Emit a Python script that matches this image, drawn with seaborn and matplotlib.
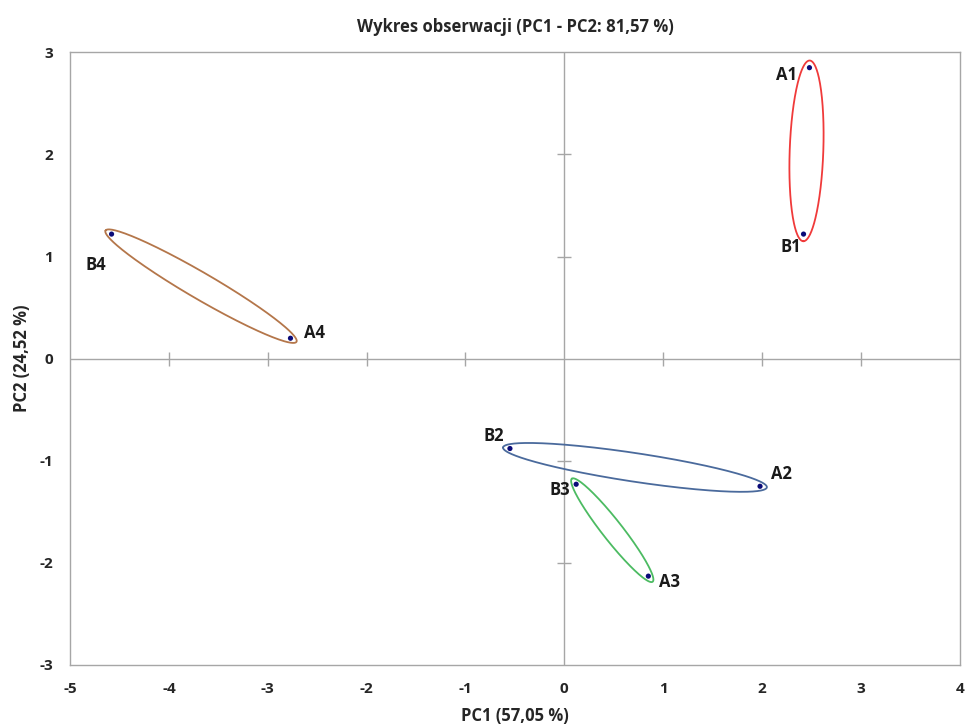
import numpy as np
import pandas as pd
import matplotlib
matplotlib.use("Agg")
import matplotlib.pyplot as plt
import seaborn as sns

# ---- data ----
labels = ["A1", "B1", "A2", "B2", "A3", "B3", "A4", "B4"]
pc1 = [2.48, 2.42, 1.98, -0.55, 0.85, 0.12, -2.77, -4.58]
pc2 = [2.85, 1.22, -1.25, -0.88, -2.13, -1.23, 0.20, 1.22]
groups = ["1", "1", "2", "2", "3", "3", "4", "4"]
x_ticks = [-5, -4, -3, -2, -1, 0, 1, 2, 3, 4]
y_ticks = [-3, -2, -1, 0, 1, 2, 3]

# style
ellipse_colors = {"1": "#f03a3a", "2": "#4a6a9c", "3": "#4cbb62", "4": "#b4764a"}
ellipse_minor = {"1": 0.17, "2": 0.14, "3": 0.10, "4": 0.13}
label_offsets = {"A1": (-9, -5, "right"), "B1": (-2, -9, "right"),
                 "A2": (8, 9, "left"), "B2": (-4, 9, "right"),
                 "A3": (8, -4, "left"), "B3": (-4, -4, "right"),
                 "A4": (10, 4, "left"), "B4": (-4, -22, "right")}

df = pd.DataFrame({"label": labels, "PC1": pc1, "PC2": pc2, "group": groups})

sns.set_style("white")
plt.rcParams["font.family"] = ["Open Sans", "DejaVu Sans"]

fig = plt.figure(figsize=(9.66, 7.25), dpi=100)
ax = fig.add_axes([0.0725, 0.0828, 0.921, 0.845])

ax.set_xlim(-5, 4)
ax.set_ylim(-3, 3)

# cross axes at zero
ax.axhline(0, color="#a6a6a6", lw=1.0, zorder=1)
ax.axvline(0, color="#a6a6a6", lw=1.0, zorder=1)
xt_inner = [t for t in x_ticks if t not in (-5, 0, 4)]
yt_inner = [t for t in y_ticks if t not in (-3, 0, 3)]
ax.plot(xt_inner, [0] * len(xt_inner), ls="none", marker="|", ms=10, mew=1.0,
        color="#a6a6a6", zorder=1)
ax.plot([0] * len(yt_inner), yt_inner, ls="none", marker="_", ms=10, mew=1.0,
        color="#a6a6a6", zorder=1)

# ellipses around pairs
t = np.linspace(0, 2 * np.pi, 300)
for g, sub in df.groupby("group"):
    p = sub[["PC1", "PC2"]].to_numpy()
    c = p.mean(axis=0)
    d = p[1] - p[0]
    L = np.hypot(*d)
    u = d / L
    n = np.array([-u[1], u[0]])
    a = L / 2 + 0.07
    b = ellipse_minor[g]
    pts = c[None, :] + np.outer(a * np.cos(t), u) + np.outer(b * np.sin(t), n)
    ax.plot(pts[:, 0], pts[:, 1], color=ellipse_colors[g], lw=1.3, zorder=2)

sns.scatterplot(data=df, x="PC1", y="PC2", ax=ax, color="#0a0a78", s=14,
                edgecolor="none", zorder=3, legend=False)

for _, r in df.iterrows():
    dx, dy, ha = label_offsets[r["label"]]
    ax.annotate(r["label"], (r["PC1"], r["PC2"]), xytext=(dx, dy),
                textcoords="offset points", ha=ha, va="center",
                fontsize=12, fontweight="bold", color="#1a1a1a")

for s in ax.spines.values():
    s.set_color("#a6a6a6")
    s.set_linewidth(1.0)

ax.set_xticks(x_ticks)
ax.set_yticks(y_ticks)
ax.set_xticklabels([str(v) for v in x_ticks], fontsize=11, fontweight="bold")
ax.set_yticklabels([str(v) for v in y_ticks], fontsize=11, fontweight="bold")
ax.tick_params(length=0, pad=12)

ax.set_xlabel("PC1 (57,05 %)", fontsize=12, fontweight="bold", labelpad=8)
ax.set_ylabel("PC2 (24,52 %)", fontsize=12, fontweight="bold", labelpad=6)
ax.set_title("Wykres obserwacji (PC1 - PC2: 81,57 %)", fontsize=12,
             fontweight="bold", pad=15)

fig.savefig("out.png", dpi=100)
